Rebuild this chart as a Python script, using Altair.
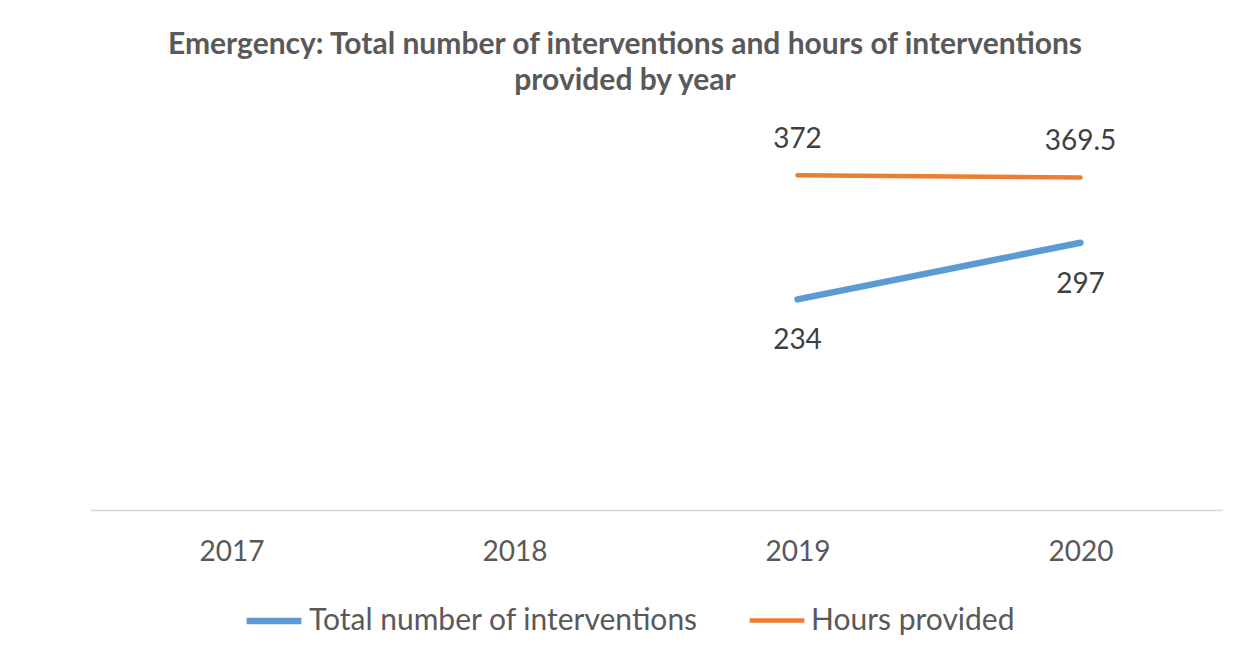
import altair as alt
import pandas as pd

years = ["2017", "2018", "2019", "2020"]
interventions = [None, None, 234, 297]
hours = [None, None, 372, 369.5]
series_names = ["Total number of interventions", "Hours provided"]
series_colors = ["#5B9BD5", "#ED7D31"]

rows = []
for y, v in zip(years, interventions):
    rows.append({"year": y, "series": series_names[0], "value": v})
for y, v in zip(years, hours):
    rows.append({"year": y, "series": series_names[1], "value": v})
df = pd.DataFrame(rows)

FONT = "Lato"

x = alt.X("year:O", scale=alt.Scale(domain=years, type="point", padding=0.5),
          axis=alt.Axis(title=None, labelAngle=0, labelFont=FONT, labelFontSize=28,
                        labelColor="#595959", labelPadding=28, ticks=False,
                        domainColor="#D9D9D9", domainWidth=1.5, grid=False))
y = alt.Y("value:Q", scale=alt.Scale(domain=[0, 400]), axis=None)

base = alt.Chart(df)

lines = base.mark_line(strokeCap="round").encode(
    x=x, y=y,
    color=alt.Color("series:N",
                    scale=alt.Scale(domain=series_names, range=series_colors),
                    legend=alt.Legend(title=None, orient="none", direction="horizontal",
                                      legendX=153, legendY=440,
                                      symbolType="stroke", symbolStrokeWidth=6,
                                      symbolSize=3000, labelFont=FONT, labelFontSize=30,
                                      labelColor="#595959", labelOffset=4, labelLimit=600,
                                      columnPadding=41, symbolOffset=0)),
    strokeWidth=alt.StrokeWidth("series:N",
                                scale=alt.Scale(domain=series_names, range=[6.5, 4.5]),
                                legend=None),
)

lab_hours = base.transform_filter(
    (alt.datum.series == series_names[1]) & alt.expr.isValid(alt.datum.value)
).mark_text(font=FONT, fontSize=28, color="#404040", baseline="alphabetic", dy=-27).encode(
    x=x, y=y, text=alt.Text("value:Q")
)

lab_int = base.transform_filter(
    (alt.datum.series == series_names[0]) & alt.expr.isValid(alt.datum.value)
).mark_text(font=FONT, fontSize=28, color="#404040", baseline="alphabetic", dy=50).encode(
    x=x, y=y, text=alt.Text("value:Q")
)

chart = alt.layer(lines, lab_hours, lab_int).properties(
    width=1132, height=360,
    autosize=alt.AutoSizeParams(type="none"),
    padding={"left": 82, "top": 142, "right": 19, "bottom": 144},
    title=alt.TitleParams(
        ["Emergency: Total number of interventions and hours of interventions",
         "provided by year"],
        font=FONT, fontSize=30, fontWeight="bold", color="#595959",
        anchor="middle", dx=-31, lineHeight=36, offset=30),
).configure(background="white").configure_view(stroke=None)

chart.save("out.html", embed_options={"renderer": "svg", "actions": False})
